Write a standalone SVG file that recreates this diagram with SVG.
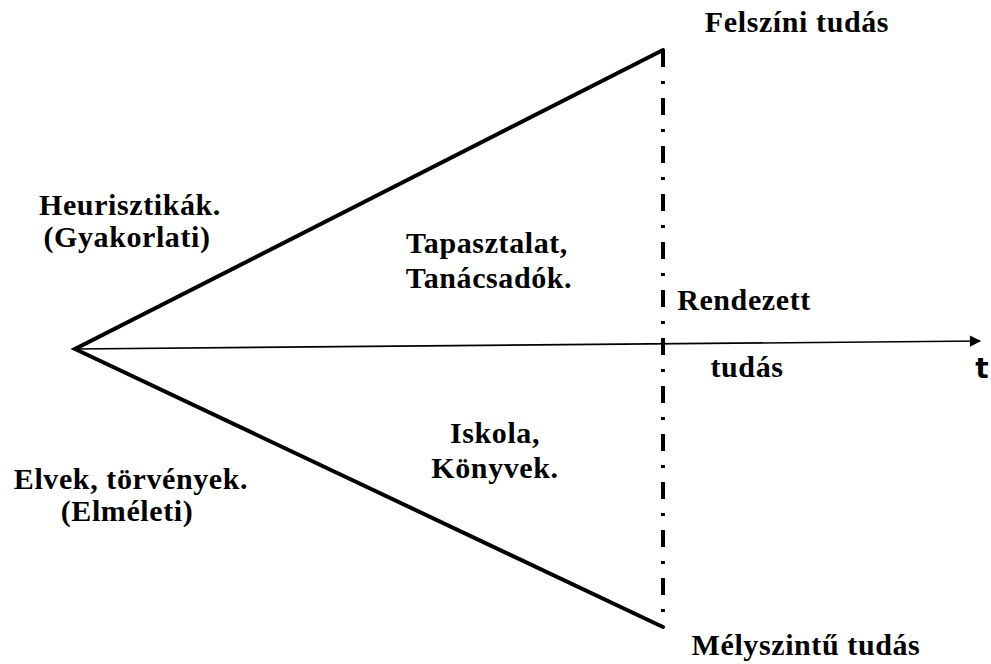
<svg xmlns="http://www.w3.org/2000/svg" width="991" height="664" viewBox="0 0 991 664">
  <style>
    .lbl { font-family: "Liberation Serif", "Times New Roman", serif; font-weight: bold; font-size: 30px; letter-spacing: 0.6px; fill: #000; text-anchor: middle; }
    .axis-t { font-family: "DejaVu Sans", "Liberation Sans", sans-serif; font-weight: bold; font-size: 28px; fill: #000; text-anchor: middle; }
    .edge { fill: none; stroke: #000; stroke-width: 4; stroke-linecap: round; stroke-linejoin: miter; }
    .axis { fill: none; stroke: #000; stroke-width: 1.6; }
    .limit { fill: none; stroke: #000; stroke-width: 4; stroke-dasharray: 17 14 3 14; }
  </style>
  <defs>
    <marker id="arrow" viewBox="0 0 10 10" refX="9" refY="5" markerWidth="8" markerHeight="7" markerUnits="strokeWidth" orient="auto">
      <path d="M0,0 L10,5 L0,10 Z" fill="#000"/>
    </marker>
  </defs>

  <!-- connectors: funnel edges, time axis, boundary -->
  <g id="connectors">
    <polyline class="edge" points="663,50 75,349 663,627"/>
    <line class="axis" x1="75" y1="349" x2="980" y2="341" marker-end="url(#arrow)"/>
    <line class="limit" x1="663" y1="50" x2="663" y2="625"/>
  </g>

  <g id="surface">
    <text class="lbl" x="797" y="32">Felszíni tudás</text>
  </g>
  <g id="heuristics">
    <text class="lbl" x="130" y="215">Heurisztikák.</text>
    <text class="lbl" x="127" y="247">(Gyakorlati)</text>
  </g>
  <g id="experience">
    <text class="lbl" x="487" y="253">Tapasztalat,</text>
    <text class="lbl" x="489" y="288">Tanácsadók.</text>
  </g>
  <g id="ordered">
    <text class="lbl" x="744" y="310">Rendezett</text>
    <text class="lbl" x="747" y="377">tudás</text>
  </g>
  <g id="time">
    <text class="axis-t" x="982" y="378">t</text>
  </g>
  <g id="school">
    <text class="lbl" x="495" y="443">Iskola,</text>
    <text class="lbl" x="495" y="478">Könyvek.</text>
  </g>
  <g id="principles">
    <text class="lbl" x="131" y="489">Elvek, törvények.</text>
    <text class="lbl" x="127" y="521">(Elméleti)</text>
  </g>
  <g id="deep">
    <text class="lbl" x="806" y="655">Mélyszintű tudás</text>
  </g>
</svg>
